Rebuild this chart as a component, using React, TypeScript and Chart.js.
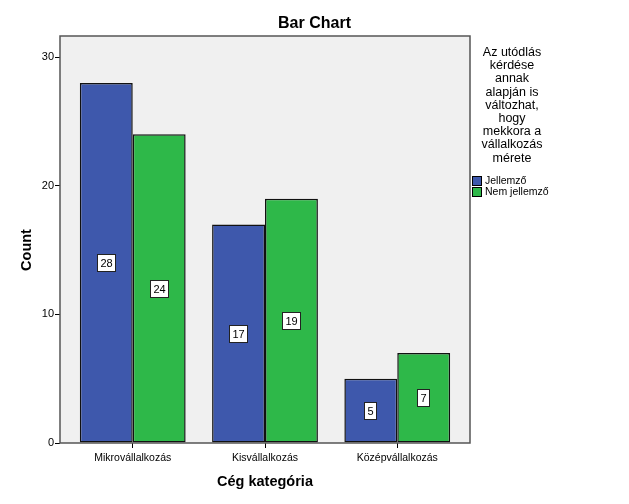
import React, { useEffect, useRef } from "react";
import { Chart, registerables } from "chart.js";

Chart.register(...registerables);

const categories = ["Mikrovállalkozás", "Kisvállalkozás", "Középvállalkozás"];
const seriesNames = ["Jellemző", "Nem jellemző"];
const jellemzo = [28, 17, 5];
const nemJellemzo = [24, 19, 7];
const yTicks = [0, 10, 20, 30];
const chartTitle = "Bar Chart";
const xTitle = "Cég kategória";
const yTitle = "Count";
const legendTitle = ["Az utódlás", "kérdése", "annak", "alapján is", "változhat,", "hogy", "mekkora a", "vállalkozás", "mérete"];

const FONT = "'Liberation Sans', Arial, sans-serif";
const BLUE = "#3e58ac";
const GREEN = "#2eb849";

const spssPlugin = {
  id: "spss",
  afterLayout(chart: any) {
    const x = chart.scales.x;
    x._startValue = -0.55;
    x._valueRange = 3.1;
  },
  beforeDraw(chart: any) {
    const { ctx, chartArea: a } = chart;
    ctx.save();
    ctx.fillStyle = "#ffffff";
    ctx.fillRect(0, 0, chart.width, chart.height);
    ctx.fillStyle = "#f0f0f0";
    ctx.fillRect(a.left, a.top, a.right - a.left, a.bottom - a.top);
    ctx.restore();
  },
  afterDatasetsDraw(chart: any) {
    const { ctx } = chart;
    const y = chart.scales.y;
    ctx.save();
    ctx.font = `11px ${FONT}`;
    ctx.textAlign = "center";
    ctx.textBaseline = "middle";
    chart.data.datasets.forEach((ds: any, di: number) => {
      const meta = chart.getDatasetMeta(di);
      meta.data.forEach((bar: any, i: number) => {
        const v = ds.data[i];
        const txt = String(v);
        const cx = bar.x;
        const cy = y.getPixelForValue(v / 2);
        const w = Math.round(ctx.measureText(txt).width) + 7;
        const h = 18;
        const left = Math.round(cx - w / 2);
        const top = Math.round(cy - h / 2);
        ctx.fillStyle = "#ffffff";
        ctx.fillRect(left, top, w, h);
        ctx.strokeStyle = "#222222";
        ctx.lineWidth = 1;
        ctx.strokeRect(left + 0.5, top + 0.5, w - 1, h - 1);
        ctx.fillStyle = "#000000";
        ctx.fillText(txt, left + w / 2, top + h / 2 + 1);
      });
    });
    ctx.restore();
  },
  afterDraw(chart: any) {
    const { ctx, chartArea: a } = chart;
    ctx.save();
    // frame
    ctx.strokeStyle = "#555555";
    ctx.lineWidth = 1.5;
    ctx.strokeRect(a.left, a.top, a.right - a.left, a.bottom - a.top);
    // title
    ctx.fillStyle = "#000000";
    ctx.textAlign = "center";
    ctx.textBaseline = "middle";
    ctx.font = `bold 16px ${FONT}`;
    ctx.fillText(chartTitle, chart.width / 2, 24);
    // x title
    ctx.font = `bold 14.5px ${FONT}`;
    ctx.fillText(xTitle, (a.left + a.right) / 2, 482);
    // y title
    ctx.save();
    ctx.translate(27, 250);
    ctx.rotate(-Math.PI / 2);
    ctx.font = `bold 14.5px ${FONT}`;
    ctx.fillText(yTitle, 0, 0);
    ctx.restore();
    // legend title
    ctx.font = `12.5px ${FONT}`;
    ctx.textBaseline = "alphabetic";
    legendTitle.forEach((line, i) => {
      ctx.fillText(line, 512, 56 + i * 13.2);
    });
    // legend items
    const colors = [BLUE, GREEN];
    ctx.textAlign = "left";
    ctx.textBaseline = "middle";
    ctx.font = `10.5px ${FONT}`;
    seriesNames.forEach((name, i) => {
      const yy = 176 + i * 11;
      ctx.fillStyle = colors[i];
      ctx.fillRect(472, yy, 9, 9);
      ctx.strokeStyle = "#000000";
      ctx.lineWidth = 1;
      ctx.strokeRect(472.5, yy + 0.5, 9, 9);
      ctx.fillStyle = "#000000";
      ctx.fillText(name, 485, yy + 5);
    });
    ctx.restore();
  },
};

export default function App() {
  const ref = useRef<HTMLCanvasElement | null>(null);
  useEffect(() => {
    if (!ref.current) return;
    const chart = new Chart(ref.current, {
      type: "bar",
      data: {
        labels: categories,
        datasets: [
          {
            label: seriesNames[0],
            data: jellemzo,
            backgroundColor: BLUE,
            borderColor: "#111111",
            borderWidth: 1.5,
            borderSkipped: false,
            inflateAmount: 0,
          },
          {
            label: seriesNames[1],
            data: nemJellemzo,
            backgroundColor: GREEN,
            borderColor: "#111111",
            borderWidth: 1.5,
            borderSkipped: false,
            inflateAmount: 0,
          },
        ],
      },
      options: {
        responsive: false,
        animation: false,
        devicePixelRatio: 1,
        layout: { padding: { left: 0, top: 36, right: 159, bottom: 0 } },
        datasets: { bar: { categoryPercentage: 0.8, barPercentage: 1 } },
        plugins: {
          legend: { display: false },
          title: { display: false },
          tooltip: { enabled: false },
        },
        scales: {
          x: {
            type: "category",
            offset: true,
            afterFit: (s: any) => {
              s.height = 61;
            },
            grid: {
              offset: false,
              drawOnChartArea: false,
              drawTicks: true,
              tickLength: 5,
              color: "#000000",
            },
            border: { display: false },
            ticks: {
              color: "#000000",
              font: { family: FONT, size: 10.5 },
              padding: 4,
              maxRotation: 0,
              autoSkip: false,
            },
          },
          y: {
            type: "linear",
            min: 0,
            max: 31.65,
            afterFit: (s: any) => {
              s.width = 60;
            },
            afterBuildTicks: (s: any) => {
              s.ticks = yTicks.map((v) => ({ value: v }));
            },
            grid: {
              drawOnChartArea: false,
              drawTicks: true,
              tickLength: 5,
              color: "#000000",
            },
            border: { display: false },
            ticks: {
              color: "#000000",
              font: { family: FONT, size: 11 },
              padding: 1,
              includeBounds: false,
            },
          },
        },
      },
      plugins: [spssPlugin],
    } as any);
    return () => chart.destroy();
  }, []);
  return (
    <div style={{ position: "absolute", left: 0, top: 0, width: 629, height: 504, background: "#fff" }}>
      <canvas ref={ref} width={629} height={504} style={{ display: "block" }} />
    </div>
  );
}
